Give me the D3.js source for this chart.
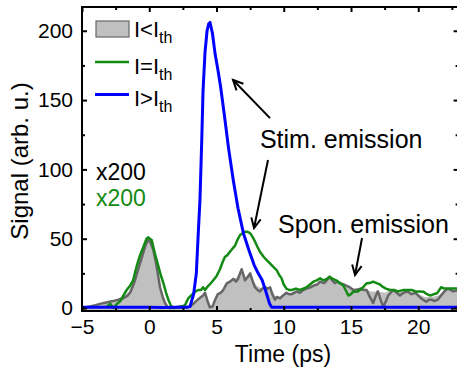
<!DOCTYPE html>
<html><head><meta charset="utf-8">
<script src="https://cdn.jsdelivr.net/npm/d3@7"></script>
<style>
body{margin:0;background:#fff}
svg{display:block}
text{font-family:"Liberation Sans",Arial,Helvetica,sans-serif}
</style>
</head><body>
<svg id="c" width="457" height="371"></svg>
<script>
// ---------- data ----------
const xMajorTicks = [-5, 0, 5, 10, 15, 20];
const xMinorTicks = [-2.5, 2.5, 7.5, 12.5, 17.5, 22.5];
const yMajorTicks = [0, 50, 100, 150, 200];
const yMinorTicks = [25, 75, 125, 175];

// I < Ith : filled area (x200)
const areaTime = [-5,-4,-3,-2.5,-2,-1.5,-1.2,-1,-0.8,-0.6,-0.4,-0.15,0,0.15,0.35,0.5,0.7,0.9,1.1,1.4,1.6,3.0,3.3,3.7,4.0,4.2,4.4,4.6,4.8,5.0,5.3,5.6,5.9,6.2,6.5,6.8,7.1,7.5,7.9,8.3,8.7,9.0,9.3,9.7,10.0,10.5,11.0,11.5,12.0,12.5,13.0,13.4,13.8,14.2,14.6,15.0,15.5,16.0,16.5,17.0,17.5,18.0,18.5,19.0,19.5,20.0,20.5,21.0,21.5,22.0,22.5,23];
const areaVal  = [0,2,4,6,8,12,18,24,32,40,46,50,51,48,40,32,20,10,4,1,0,1,3,7,10,11,5,1,4,9,12,15,19,21,22,28,22,25,17,14,15,15,9,8,10,11,12,13,15,17,19,22,19,18,16,14,14,14,12,12,11,13,11,12,11,10,8,8,9,13,13,13];

// I < Ith : dark grey trace (x200)
const grayTime = [-5,-4.5,-4,-3.66,-3.2,-2.7,-2.3,-1.95,-1.6,-1.43,-1.25,-1.06,-0.88,-0.69,-0.5,-0.32,-0.15,-0.05,0.1,0.3,0.45,0.55,0.7,0.8,1.0,1.17,1.35,1.54,1.9,2.3,2.7,3.0,3.28,3.6,3.85,4.0,4.15,4.3,4.5,4.7,4.9,5.1,5.3,5.5,5.76,6.0,6.25,6.45,6.6,6.87,7.0,7.12,7.3,7.5,7.7,7.86,8.05,8.23,8.4,8.6,8.8,8.98,9.15,9.35,9.5,9.72,9.95,10.2,10.4,10.6,10.96,11.2,11.45,11.7,12.0,12.32,12.5,12.7,13.0,13.2,13.4,13.6,13.8,14.0,14.2,14.55,14.9,15.17,15.4,15.7,15.9,16.16,16.4,16.65,16.85,17.0,17.2,17.4,17.6,17.77,17.95,18.14,18.4,18.64,18.9,19.2,19.5,19.8,20.1,20.35,20.6,20.8,21.0,21.2,21.45,21.7,21.95,22.2,22.4,22.6,23];
const grayVal  = [0,1,2,3,4,5,6,7,9,11,15,20,26,32,38,44,48,49,47,42,35,30,21,15,8,3.6,1,0,0.5,1,0.5,1,3,6,8,9,11,6,0.5,1,6,10,11,13,17.8,19,21,19,21,28,24,20,22,25,19,15,13,12,14,15,14,15,10,6,8,7,9,11,10,10,12,11,13,14,15,16.6,17,19,18,20,22.6,20,18,19,18,16.6,15,13,13,14,13,13,8,3.6,9,12,6,1,5,9,11,13,11,9,11,12,10,11,8,6,4.6,6,6,5,6,9,12,14,13,12,13];

// I = Ith (x200)
const greenTime = [-3.3,-3.17,-2.9,-2.65,-2.4,-2.15,-1.93,-1.68,-1.43,-1.2,-0.94,-0.69,-0.44,-0.2,-0.07,0.05,0.18,0.43,0.68,0.85,1.05,1.25,1.42,1.6,1.8,2.05,2.29,2.5,2.66,2.9,3.1,3.28,3.45,3.65,3.85,4.0,4.15,4.3,4.5,4.76,5.0,5.26,5.45,5.63,5.8,6.0,6.2,6.38,6.55,6.75,6.95,7.12,7.3,7.5,7.7,7.86,8.05,8.23,8.5,8.73,8.9,9.1,9.3,9.47,9.65,9.84,10.0,10.2,10.4,10.6,10.9,11.2,11.45,11.7,11.95,12.2,12.45,12.7,12.95,13.2,13.4,13.65,13.9,14.15,14.4,14.6,14.8,15.0,15.17,15.5,15.8,16.16,16.4,16.65,16.9,17.15,17.4,17.6,17.9,18.2,18.5,18.9,19.2,19.5,19.8,20.1,20.4,20.65,20.9,21.15,21.4,21.7,21.95,22.2,22.6,23];
const greenVal  = [1,1,3,0,3,5,9,13,16,20,30,38,44,50,51,50,49,39,30,24,18,11,6,2,0,0.5,1,1.5,2,7,9,10.6,12,13,13,15,13,15,17,20,23,28,33,37,38,40.6,43,45,49,52.7,54,55,55,54,51,48,44,40.6,37,34.6,33,31,29,27.4,24,21.4,17,14,13,13,14,13,14,15,17,19,20,21.4,20,21,22.6,21,20,18,16.6,13,9,10,11.8,12,14,17.8,18,19,18,17,15,14,13,13,12,13,13,13,12,12,11.8,10,9,10,10.6,15,14,14,14,14];

// I > Ith
const blueTime = [-5,-3,0,1,2,2.8,3.03,3.3,3.5,3.65,3.77,3.9,4.0,4.15,4.3,4.42,4.52,4.7,4.9,5.1,5.3,5.6,5.9,6.25,6.6,7.0,7.4,7.8,8.1,8.4,8.7,8.95,9.1,23];
const blueVal  = [0.5,0.5,0.5,0.3,0.5,0.5,1,10,25,55,78,120,157,185,200,205,206,198,183,172,160,138,115,92,72,54,42,31,25,20,11,3,0.5,0.5];

const legendLabels = ["I<I", "I=I", "I>I"];
const colors = {area:"#c0c0c0", gray:"#666666", green:"#138a13", blue:"#0000ff"};

// ---------- chart ----------
const svg = d3.select("#c");
const L = 82, T = 7, B = 311;
const x = d3.scaleLinear().domain([-5, 23]).range([L, 458.6]);
const y = d3.scaleLinear().domain([-2, 217]).range([310.8, 7.2]);
const W = x(23) - L;

svg.append("defs").append("clipPath").attr("id","clip")
  .append("rect").attr("x",L).attr("y",T).attr("width",W).attr("height",B-T);

const plot = svg.append("g").attr("clip-path","url(#clip)");

const zip = (ts, vs) => ts.map((t,i)=>[t, vs[i]]);

plot.append("path").datum(zip(areaTime, areaVal))
  .attr("fill", colors.area)
  .attr("d", d3.area().x(d=>x(d[0])).y0(y(-2)).y1(d=>y(d[1])));

const line = d3.line().x(d=>x(d[0])).y(d=>y(d[1]));
plot.append("path").datum(zip(grayTime, grayVal))
  .attr("fill","none").attr("stroke",colors.gray).attr("stroke-width",2.5)
  .attr("stroke-linejoin","round").attr("d", line);
plot.append("path").datum(zip(greenTime, greenVal))
  .attr("fill","none").attr("stroke",colors.green).attr("stroke-width",2.5)
  .attr("stroke-linejoin","round").attr("d", line);
plot.append("path").datum(zip(blueTime, blueVal))
  .attr("fill","none").attr("stroke",colors.blue).attr("stroke-width",3)
  .attr("stroke-linejoin","round").attr("d", line);

// axes
function styleAxis(g){
  g.select(".domain").remove();
  g.selectAll(".tick line").attr("stroke","#000").attr("stroke-width",2);
  g.selectAll(".tick text").attr("font-size",21).attr("fill","#000")
    .attr("font-family",'"Liberation Sans",Arial,Helvetica,sans-serif');
}
svg.append("g").attr("transform",`translate(0,${B})`)
  .call(d3.axisBottom(x).tickValues(xMajorTicks).tickSize(-5).tickPadding(8).tickFormat(d3.format("d")))
  .call(styleAxis);
svg.append("g").attr("transform",`translate(0,${B})`)
  .call(d3.axisBottom(x).tickValues(xMinorTicks).tickSize(-3).tickFormat(""))
  .call(styleAxis);
svg.append("g").attr("transform",`translate(0,${T})`)
  .call(d3.axisTop(x).tickValues(xMajorTicks).tickSize(-5).tickFormat(""))
  .call(styleAxis);
svg.append("g").attr("transform",`translate(0,${T})`)
  .call(d3.axisTop(x).tickValues(xMinorTicks).tickSize(-3).tickFormat(""))
  .call(styleAxis);
svg.append("g").attr("transform",`translate(${L},0)`)
  .call(d3.axisLeft(y).tickValues(yMajorTicks).tickSize(-5).tickPadding(9).tickFormat(d3.format("d")))
  .call(styleAxis);
svg.append("g").attr("transform",`translate(${L},0)`)
  .call(d3.axisLeft(y).tickValues(yMinorTicks).tickSize(-3).tickFormat(""))
  .call(styleAxis);
svg.append("g").attr("transform",`translate(${x(23)},0)`)
  .call(d3.axisRight(y).tickValues(yMajorTicks).tickSize(-5).tickFormat(""))
  .call(styleAxis);
svg.append("g").attr("transform",`translate(${x(23)},0)`)
  .call(d3.axisRight(y).tickValues(yMinorTicks).tickSize(-3).tickFormat(""))
  .call(styleAxis);

svg.append("rect").attr("x",L).attr("y",T).attr("width",W).attr("height",B-T)
  .attr("fill","none").attr("stroke","#000").attr("stroke-width",2);

// axis labels
svg.append("text").attr("x",283).attr("y",362).attr("text-anchor","middle")
  .attr("font-size",23).text("Time (ps)");
svg.append("text").attr("transform","translate(28,161) rotate(-90)").attr("text-anchor","middle")
  .attr("font-size",24).text("Signal (arb. u.)");

// legend
const leg = svg.append("g");
leg.append("rect").attr("x",96).attr("y",21).attr("width",33).attr("height",16)
  .attr("fill",colors.area).attr("stroke",colors.gray).attr("stroke-width",1.2);
leg.append("line").attr("x1",95).attr("x2",129).attr("y1",62).attr("y2",62)
  .attr("stroke",colors.green).attr("stroke-width",2.5);
leg.append("line").attr("x1",95).attr("x2",129).attr("y1",94.5).attr("y2",94.5)
  .attr("stroke",colors.blue).attr("stroke-width",3);
const legY = [37, 73.5, 106];
legendLabels.forEach((lab,i)=>{
  const t = leg.append("text").attr("x",134).attr("y",legY[i]).attr("font-size",22);
  t.append("tspan").text(lab);
  t.append("tspan").attr("font-size",16).attr("dy",6).text("th");
});

// multipliers
svg.append("text").attr("x",x(-3.96)).attr("y",y(92.3)).attr("font-size",23).attr("fill","#000").text("x200");
svg.append("text").attr("x",x(-3.96)).attr("y",y(73.6)).attr("font-size",23).attr("fill",colors.green).text("x200");

// annotations
svg.append("text").attr("x",x(8.23)).attr("y",y(115.4)).attr("font-size",25).text("Stim. emission");
svg.append("text").attr("x",x(9.57)).attr("y",y(54)).attr("font-size",25).text("Spon. emission");

function arrow(t0,v0,t1,v1){
  const x0=x(t0), y0=y(v0), x1=x(t1), y1=y(v1);
  const a = Math.atan2(y1-y0, x1-x0), len=11, sp=0.45;
  const g = svg.append("g").attr("stroke","#000").attr("stroke-width",2).attr("fill","none");
  g.append("line").attr("x1",x0).attr("y1",y0).attr("x2",x1).attr("y2",y1);
  g.append("path").attr("d",
    `M${x1-len*Math.cos(a-sp)},${y1-len*Math.sin(a-sp)}L${x1},${y1}L${x1-len*Math.cos(a+sp)},${y1-len*Math.sin(a+sp)}`);
}
arrow(8.98,137, 6.23,164.5);
arrow(8.83,106.8, 7.79,57.7);
arrow(15.82,50.5, 15.3,23.8);
</script>
</body></html>
